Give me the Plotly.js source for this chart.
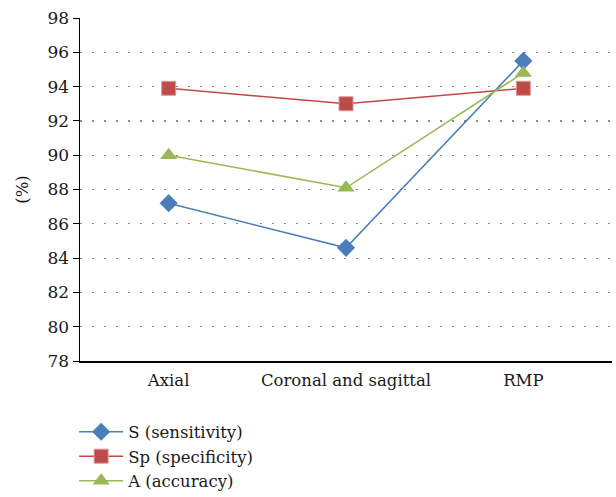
<!DOCTYPE html>
<html>
<head>
<meta charset="utf-8">
<script src="https://cdn.plot.ly/plotly-3.0.1.min.js"></script>
<style>html,body{margin:0;padding:0;background:#fff;}#chart{width:616px;height:497px;}</style>
</head>
<body>
<div id="chart"></div>
<script>
const categories = ["Axial", "Coronal and sagittal", "RMP"];
const sensitivity = [87.2, 84.6, 95.5];
const specificity = [93.9, 93.0, 93.9];
const accuracy = [90.0, 88.1, 94.8];
const seriesNames = ["S (sensitivity)", "Sp (specificity)", "A (accuracy)"];
const yTicks = [78, 80, 82, 84, 86, 88, 90, 92, 94, 96, 98];

const font = "DejaVu Serif";
const txt = "#1a1a1a";
const traces = [
  {x: categories, y: sensitivity, name: seriesNames[0], type: "scatter", mode: "lines+markers",
   line: {color: "#4a7ebb", width: 1.5}, marker: {symbol: "diamond", size: 14, color: "#4a7ebb"}},
  {x: categories, y: specificity, name: seriesNames[1], type: "scatter", mode: "lines+markers",
   line: {color: "#be4b48", width: 1.5}, marker: {symbol: "square", size: 14, color: "#be4b48", line: {color: "#d89a99", width: 1}}},
  {x: categories, y: accuracy, name: seriesNames[2], type: "scatter", mode: "lines+markers",
   line: {color: "#98b954", width: 1.5}, marker: {symbol: "triangle-up", size: 15, color: "#98b954"}}
];
const layout = {
  width: 616, height: 497,
  margin: {l: 80, r: 4, t: 18, b: 136, autoexpand: false},
  paper_bgcolor: "#fff", plot_bgcolor: "#fff",
  font: {family: font, size: 16.5, color: txt},
  showlegend: true,
  legend: {x: -0.011, xanchor: "left", y: -0.156, yanchor: "top", orientation: "v", itemwidth: 44,
           font: {family: font, size: 16.5, color: txt}, tracegroupgap: 0, bgcolor: "rgba(0,0,0,0)"},
  xaxis: {type: "category", range: [-0.5, 2.5], showline: true, linecolor: "#000", linewidth: 1.5,
          showgrid: false, ticks: "", ticklabelstandoff: 4, tickfont: {family: font, size: 16.5, color: txt}, zeroline: false},
  yaxis: {range: [78, 98], tickvals: yTicks, showline: true, linecolor: "#000", linewidth: 1.5,
          ticks: "outside", ticklen: 6, tickcolor: "#000", tickwidth: 1,
          showgrid: true, gridcolor: "#888", griddash: "1.5px,10.5px", gridwidth: 1.2, zeroline: false,
          tickfont: {family: font, size: 17, color: txt},
          title: {text: "(%)", font: {family: font, size: 16.5, color: txt}, standoff: 14}}
};
Plotly.newPlot("chart", traces, layout, {displayModeBar: false, staticPlot: true});
</script>
</body>
</html>
